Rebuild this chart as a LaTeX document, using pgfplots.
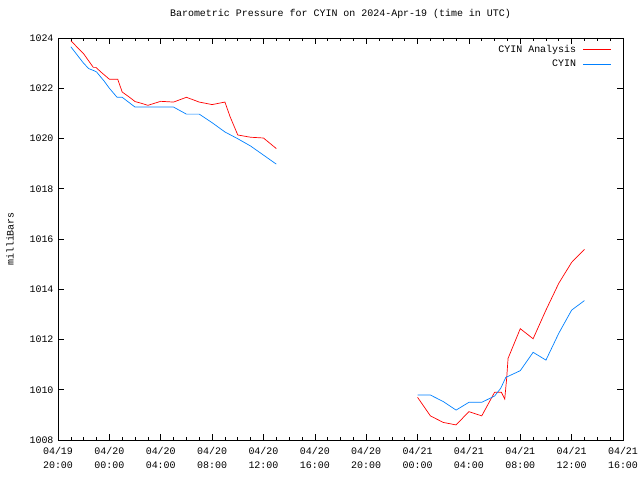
\documentclass[border=0pt]{standalone}
\usepackage{pgfplots}
\pgfplotsset{compat=1.18}
\usepackage{fontspec}
\setmainfont{Liberation Mono}
\definecolor{gpblue}{RGB}{0,128,255}
\begin{document}
\begin{tikzpicture}
\useasboundingbox (-58bp,-40bp) rectangle (582bp,440bp);
\begin{axis}[
  at={(0,0)}, anchor=south west,
  scale only axis, width=565bp, height=402bp,
  xmin=0, xmax=44, ymin=1008, ymax=1024,
  xtick={0,4,...,44},
  xticklabels={04/19\\20:00,04/20\\00:00,04/20\\04:00,04/20\\08:00,04/20\\12:00,04/20\\16:00,04/20\\20:00,04/21\\00:00,04/21\\04:00,04/21\\08:00,04/21\\12:00,04/21\\16:00},
  xticklabel style={align=center, font=\fontsize{10}{14}\selectfont, yshift=-4bp},
  minor x tick num=3,
  ytick={1008,1010,...,1024},
  yticklabel style={font=\fontsize{10}{12}\selectfont, xshift=-1bp},
  /pgf/number format/assume math mode=true,
  /pgf/number format/1000 sep={},
  ylabel={milliBars},
  ylabel style={font=\fontsize{10}{12}\selectfont, at={(-48bp,0.5)}, anchor=center},
  title={Barometric Pressure for CYIN on 2024-Apr-19 (time in UTC)},
  title style={font=\fontsize{10}{12}\selectfont, at={(0.5,1)}, yshift=10bp, anchor=south},
  tick align=inside,
  major tick length=6bp, minor tick length=3bp,
  axis line style={line width=0.8pt},
  tick style={line width=0.6pt, black},
  legend style={draw=none, fill=none, at={(1,1)}, anchor=north east, xshift=-8bp, yshift=-3bp, font=\fontsize{10}{12}\selectfont, row sep=2bp, column sep=5bp},
  legend cell align=right,
  legend plot pos=right,
  legend image code/.code={\draw[#1] (0bp,0bp) -- (28bp,0bp);},
]
\addplot[red, line width=0.7pt] coordinates {
(1,1023.89) (2,1023.37) (2.75,1022.83) (2.95,1022.83) (3.4,1022.62) (4,1022.36) (4.65,1022.36) (5,1021.85) (5.6,1021.63) (6,1021.47) (6.5,1021.40) (7,1021.32) (7.5,1021.40) (8,1021.48) (9,1021.45) (10,1021.64) (11,1021.45) (12,1021.35) (12.5,1021.40) (13,1021.45) (13.4,1020.87) (14,1020.14) (15,1020.05) (16,1020.02) (17,1019.6)
};
\addlegendentry{CYIN Analysis}
\addplot[gpblue, line width=0.7pt] coordinates {
(1,1023.65) (2,1022.99) (2.4,1022.78) (2.8,1022.70) (3,1022.65) (3.6,1022.28) (4,1022.0) (4.6,1021.64) (5,1021.64) (6,1021.25) (7,1021.25) (8,1021.25) (9,1021.25) (10,1020.97) (11,1020.97) (12,1020.63) (13,1020.26) (14,1019.99) (15,1019.70) (16,1019.34) (17,1018.98)
};
\addlegendentry{CYIN}
\addplot[red, line width=0.7pt, forget plot] coordinates {
(28,1009.70) (29,1008.96) (30,1008.70) (31,1008.60) (32,1009.13) (33,1008.96) (34,1009.90) (34.53,1009.90) (34.79,1009.63) (34.94,1010.45) (35.05,1011.25) (36,1012.43) (37,1012.03) (38,1013.17) (39,1014.24) (40,1015.07) (41,1015.59)
};
\addplot[gpblue, line width=0.7pt, forget plot] coordinates {
(28,1009.79) (29,1009.79) (30,1009.53) (31,1009.19) (32,1009.50) (33,1009.50) (34,1009.75) (34.48,1010.06) (34.87,1010.49) (36,1010.76) (37,1011.49) (38,1011.18) (39,1012.25) (40,1013.17) (41,1013.55)
};
\end{axis}
\end{tikzpicture}
\end{document}
